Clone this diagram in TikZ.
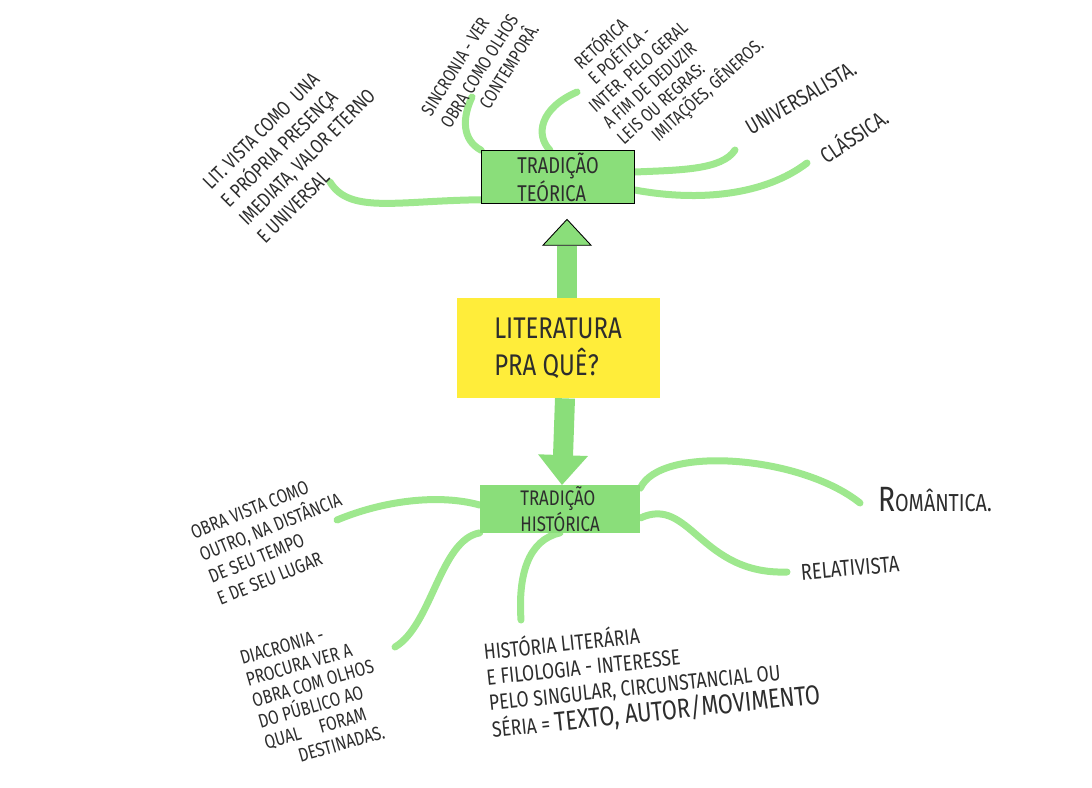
\documentclass[tikz,border=0pt]{standalone}
\usepackage{fontspec}
\setmainfont[FakeStretch=0.8]{Fira Sans}
\usepackage{tikz}
\usetikzlibrary{arrows.meta,backgrounds}

\definecolor{markgreen}{RGB}{158,232,142}
\definecolor{boxgreen}{RGB}{138,222,122}
\definecolor{markyellow}{RGB}{255,237,58}
\definecolor{pen}{RGB}{45,45,45}

\newcommand{\handsize}[2]{\fontsize{#1}{#2}\selectfont}

\tikzset{
  branch/.style={markgreen,line width=1.4mm,line cap=round},
  note/.style={text=pen,align=left,inner sep=0pt,font=\handsize{11}{13}},
  teobox/.style={fill=boxgreen,draw=black,line width=0.6pt,minimum width=30.5mm,minimum height=10mm,inner ysep=1pt,align=left,text=pen,font=\handsize{13}{13.5}},
  hisbox/.style={fill=boxgreen,minimum width=32mm,minimum height=8.6mm,inner ysep=0.5pt,align=left,text=pen,font=\handsize{12}{12.5}},
  litbox/.style={fill=markyellow,minimum width=40.6mm,minimum height=20mm,align=left,text=pen,font=\handsize{17}{21}},
  fatarrow/.style={boxgreen,line width=4mm}
}

\begin{document}
\begin{tikzpicture}[x=0.2mm,y=-0.2mm]
\useasboundingbox (0,0) rectangle (1092,787);

\node[litbox] (lit) at (558,348) {LITERATURA\\PRA QUÊ?};
\node[teobox] (teo) at (558,177) {TRADIÇÃO\\TEÓRICA};
\node[hisbox] (his) at (560,509) {TRADIÇÃO\\HISTÓRICA};

\draw[fatarrow,shorten >=3mm,-{Triangle[length=5.4mm,width=10mm,fill=boxgreen,color=black,line width=0.5pt]}] ([xshift=1.8mm]lit.north) -- ([xshift=1.8mm]teo.south);
\draw[fatarrow,-{Triangle[length=6mm,width=9.6mm,fill=boxgreen]}] ([xshift=1.4mm]lit.south) -- ([xshift=0.4mm]his.north);

% loose ends of the branches
\coordinate (eLit) at (330,182);
\coordinate (eSin) at (472,97);
\coordinate (eRet) at (577,92);
\coordinate (eUni) at (735,150);
\coordinate (eCla) at (807,163);
\coordinate (eObra) at (337,520);
\coordinate (eDia) at (395,647);
\coordinate (eHis) at (521,620);
\coordinate (eRom) at (860,503);
\coordinate (eRel) at (787,572);

\begin{scope}[on background layer]
\draw[branch] ([shift={(1mm,0.8mm)}]teo.south west) .. controls (400,200) and (350,215) .. (eLit);
\draw[branch] (teo.north west) .. controls (462,140) and (462,118) .. (eSin);
\draw[branch] ([xshift=-1.6mm]teo.north) .. controls (535,135) and (540,108) .. (eRet);
\draw[branch] ([yshift=1mm]teo.east) .. controls (680,170) and (722,170) .. (eUni);
\draw[branch] ([yshift=-2.6mm]teo.east) .. controls (700,202) and (765,195) .. (eCla);

\draw[branch] ([yshift=0.8mm]his.west) .. controls (440,494) and (385,500) .. (eObra);
\draw[branch] (his.south west) .. controls (440,540) and (432,625) .. (eDia);
\draw[branch] (his.south) .. controls (528,540) and (518,575) .. (eHis);
\draw[branch] ([yshift=-0.6mm]his.north east) .. controls (660,445) and (800,455) .. (eRom);
\draw[branch] ([yshift=-1.8mm]his.east) .. controls (690,495) and (700,575) .. (eRel);
\end{scope}

\node[note,rotate=45,font=\handsize{11.5}{14.5}] (tLit) at (298,148) {LIT. VISTA COMO\ \ UNA\\E PRÓPRIA PRESENÇA\\IMEDIATA, VALOR ETERNO\\E UNIVERSAL};
\node[note,rotate=58,font=\handsize{10.5}{13}] (tSin) at (480,70) {SINCRONIA - VER\\OBRA COMO OLHOS\\\hspace*{2em}CONTEMPORÂ.};
\node[note,rotate=42,font=\handsize{10.5}{12}] (tRet) at (662,60) {\hspace*{1em}RETÓRICA\\\hspace*{1em}E POÉTICA -\\INTER. PELO GERAL\\A FIM DE DEDUZIR\\LEIS OU REGRAS:\\\hspace*{1.5em}IMITAÇÕES, GÊNEROS.};
\node[note,rotate=30,font=\handsize{12.5}{14}] (tUni) at (801,98) {UNIVERSALISTA.};
\node[note,rotate=34,font=\handsize{12.5}{14}] (tCla) at (853,135) {CLÁSSICA.};

\node[note,rotate=22,font=\handsize{11}{13.5}] (tObra) at (275,538) {OBRA VISTA COMO\\OUTRO, NA DISTÂNCIA\\DE SEU TEMPO\\E DE SEU LUGAR};
\node[note,rotate=16,font=\handsize{11}{12.5}] (tDia) at (316,694) {DIACRONIA -\\PROCURA VER A\\OBRA COM OLHOS\\DO PÚBLICO AO\\QUAL\quad FORAM\\\hspace*{1.5em}DESTINADAS.};
\node[note,rotate=6,font=\handsize{12.5}{14.5}] (tHis) at (652,674) {HISTÓRIA LITERÁRIA\\E FILOLOGIA - INTERESSE\\PELO SINGULAR, CIRCUNSTANCIAL OU\\SÉRIA = {\handsize{15.5}{14.5}TEXTO, AUTOR/MOVIMENTO}};
\node[note,font=\handsize{14}{16}] (tRom) at (935,500) {{\handsize{20}{16}R}OMÂNTICA.};
\node[note,rotate=5,font=\handsize{13}{15}] (tRel) at (850,568) {RELATIVISTA};

\end{tikzpicture}
\end{document}
